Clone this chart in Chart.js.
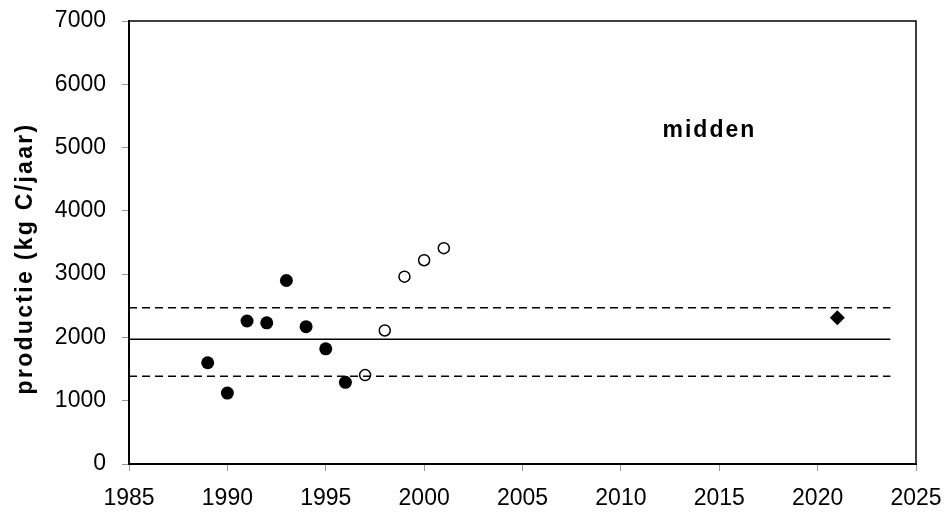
<!DOCTYPE html>
<html>
<head>
<meta charset="utf-8">
<script src="https://cdn.jsdelivr.net/npm/chart.js@4.4.1/dist/chart.umd.min.js"></script>
<style>
  html, body { margin: 0; padding: 0; background: #fff; }
  #chart { display: block; }
</style>
</head>
<body>
<canvas id="chart" width="950" height="518"></canvas>
<script>
// measured years (filled circles)
const measuredYears = [1989, 1990, 1991, 1992, 1993, 1994, 1995, 1996];
const measuredValues = [1600, 1120, 2260, 2230, 2900, 2170, 1820, 1290];

// later years (open circles)
const laterYears = [1997, 1998, 1999, 2000, 2001];
const laterValues = [1405, 2110, 2960, 3220, 3410];

// projection (diamond)
const projYears = [2021];
const projValues = [2310];

// mean and band
const lineYears = [1985, 2023.7];
const meanValue = 1970;
const upperValue = 2470;
const lowerValue = 1385;

const xTicks = [1985, 1990, 1995, 2000, 2005, 2010, 2015, 2020, 2025];
const yTicks = [0, 1000, 2000, 3000, 4000, 5000, 6000, 7000];

const panelLabel = 'midden';
const panelLabelPos = { x: 2014.5, y: 5260 };
const yTitle = 'productie (kg C/jaar)';

const toPoints = (xs, ys) => xs.map((x, i) => ({ x: x, y: ys[i] }));
const flatLine = (v) => lineYears.map(x => ({ x: x, y: v }));

const FONT = "'Liberation Sans', Arial, sans-serif";

// frame round the plot area, the y title and the panel label
const extras = {
    id: 'extras',
    afterDraw(chart) {
        const ctx = chart.ctx;
        const area = chart.chartArea;
        ctx.save();
        ctx.strokeStyle = '#000';
        ctx.lineWidth = 1.5;
        ctx.beginPath();
        ctx.moveTo(area.left, area.top);
        ctx.lineTo(area.right, area.top);
        ctx.lineTo(area.right, area.bottom);
        ctx.stroke();

        // panel label
        const xs = chart.scales.x;
        const ys = chart.scales.y;
        ctx.fillStyle = '#000';
        ctx.font = 'bold 23px ' + FONT;
        ctx.letterSpacing = '2px';
        ctx.textAlign = 'center';
        ctx.textBaseline = 'middle';
        ctx.fillText(panelLabel, xs.getPixelForValue(panelLabelPos.x), ys.getPixelForValue(panelLabelPos.y));

        // y axis title
        ctx.translate(area.left - 103, (area.top + area.bottom) / 2 + 16);
        ctx.rotate(-Math.PI / 2);
        ctx.letterSpacing = '2.3px';
        ctx.fillText(yTitle, 0, 0);
        ctx.restore();
    }
};

new Chart(document.getElementById('chart'), {
    type: 'scatter',
    data: {
        datasets: [
            {
                type: 'line',
                data: flatLine(meanValue),
                borderColor: '#000',
                borderWidth: 1.5,
                pointRadius: 0
            },
            {
                type: 'line',
                data: flatLine(upperValue),
                borderColor: '#000',
                borderWidth: 1.5,
                borderDash: [8, 5],
                pointRadius: 0
            },
            {
                type: 'line',
                data: flatLine(lowerValue),
                borderColor: '#000',
                borderWidth: 1.5,
                borderDash: [8, 5],
                pointRadius: 0
            },
            {
                data: toPoints(measuredYears, measuredValues),
                pointStyle: 'circle',
                pointRadius: 6.5,
                backgroundColor: '#000',
                borderColor: '#000',
                borderWidth: 0
            },
            {
                data: toPoints(laterYears, laterValues),
                pointStyle: 'circle',
                pointRadius: 5.5,
                backgroundColor: '#fff',
                borderColor: '#000',
                borderWidth: 1.5
            },
            {
                data: toPoints(projYears, projValues),
                pointStyle: 'rectRot',
                pointRadius: 7.5,
                backgroundColor: '#000',
                borderColor: '#000',
                borderWidth: 0
            }
        ]
    },
    options: {
        responsive: false,
        animation: false,
        events: [],
        layout: { padding: { left: 0, right: 34, top: 21, bottom: 0 } },
        plugins: {
            legend: { display: false },
            tooltip: { enabled: false }
        },
        scales: {
            x: {
                type: 'linear',
                min: 1985,
                max: 2025,
                afterBuildTicks: (scale) => { scale.ticks = xTicks.map(v => ({ value: v })); },
                afterFit: (scale) => {
                    scale.height = 54;
                    scale.paddingLeft = 0;
                    scale.paddingRight = 0;
                },
                ticks: {
                    color: '#000',
                    font: { family: FONT, size: 23 },
                    padding: 14,
                    maxRotation: 0,
                    callback: (v) => String(v)
                },
                grid: {
                    drawOnChartArea: false,
                    drawTicks: true,
                    tickLength: 7,
                    tickColor: '#999'
                },
                border: { color: '#000', width: 2 }
            },
            y: {
                min: 0,
                max: 7000,
                afterBuildTicks: (scale) => { scale.ticks = yTicks.map(v => ({ value: v })); },
                afterFit: (scale) => {
                    scale.width = 129;
                    scale.paddingTop = 0;
                    scale.paddingBottom = 0;
                },
                ticks: {
                    color: '#000',
                    font: { family: FONT, size: 23 },
                    padding: 16,
                    callback: (v) => String(v)
                },
                grid: {
                    drawOnChartArea: false,
                    drawTicks: true,
                    tickLength: 7,
                    tickColor: '#999'
                },
                border: { color: '#000', width: 2 }
            }
        }
    },
    plugins: [extras]
});
</script>
</body>
</html>
